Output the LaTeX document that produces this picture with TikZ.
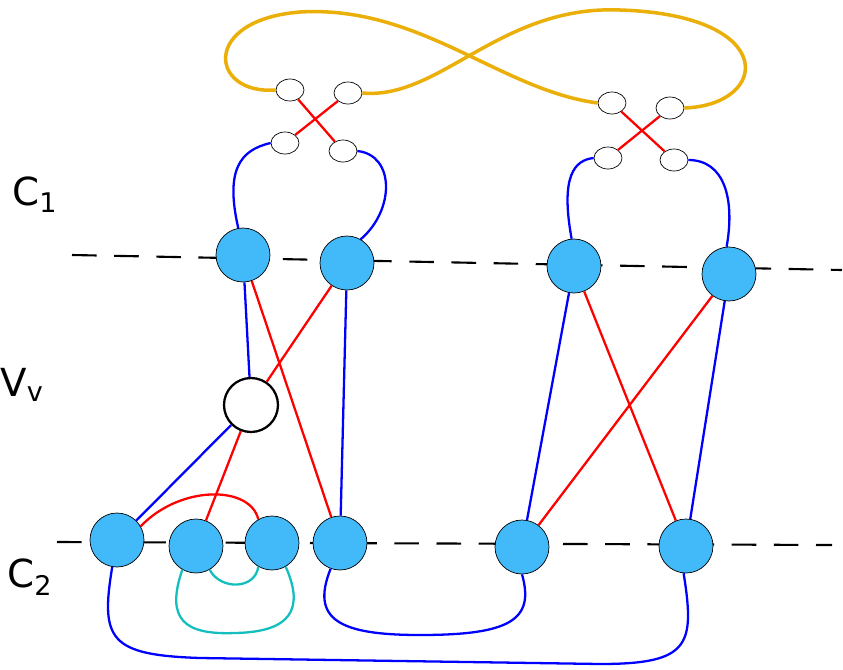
\documentclass[tikz,border=0pt]{standalone}
\usepackage{fontspec}
\setmainfont{DejaVu Sans}
\usetikzlibrary{positioning,shapes.geometric}
\definecolor{nodeblue}{RGB}{66,186,250}
\definecolor{gold}{RGB}{235,175,10}
\definecolor{tealc}{RGB}{20,190,190}
\tikzstyle{vtx} = [circle, draw=black, fill=nodeblue, minimum size=1.08cm, inner sep=0pt]
\tikzstyle{open} = [circle, draw=black, line width=1.3pt, fill=white, minimum size=1.08cm, inner sep=0pt]
\tikzstyle{lil} = [ellipse, draw=black, fill=white, minimum width=0.56cm, minimum height=0.44cm, inner sep=0pt]
\tikzstyle{bl} = [draw=blue, line width=1.3pt]
\tikzstyle{rd} = [draw=red, line width=1.3pt]
\tikzstyle{cy} = [draw=tealc, line width=1.3pt]
\tikzstyle{cutline} = [draw=black, dash pattern=on 14pt off 10pt, line width=1.2pt]
\tikzstyle{lab} = [font=\fontsize{22}{24}\selectfont]
\begin{document}
\begin{tikzpicture}[x=0.02cm,y=-0.02cm]
            \useasboundingbox (0,0) rectangle (843,670);
            % cut lines
            \coordinate (d1a) at (72,255); \coordinate (d1b) at (842,270);
            \coordinate (d2a) at (57,542); \coordinate (d2b) at (832,545);
            \draw[cutline] (d1a) -- (d1b);
            \draw[cutline] (d2a) -- (d2b);

            \node[lab] (C1) at (35,195) {C\textsubscript{1}};
            \node[lab] (Vlab) at (22,385) {V\textsubscript{v}};
            \node[lab] (C2) at (30,577) {C\textsubscript{2}};

            % small ellipses
            \node[lil] (E1) at (290,90) {};
            \node[lil] (E2) at (348,93) {};
            \node[lil] (E3) at (285,143) {};
            \node[lil] (E4) at (343,151) {};
            \node[lil] (E5) at (612,103) {};
            \node[lil] (E6) at (670,108) {};
            \node[lil] (E7) at (608,158) {};
            \node[lil] (E8) at (674,160) {};

            \path[rd] (E1) -- (E4) (E2) -- (E3) (E5) -- (E8) (E6) -- (E7);

            % golden figure eight
            \draw[draw=gold, line width=2pt] (E1.west) .. controls (210,95) and (200,20) .. (300,12)
                .. controls (420,5) and (500,90) .. (E5.west);
            \draw[draw=gold, line width=2pt] (E6.east) .. controls (770,105) and (780,15) .. (620,10)
                .. controls (500,5) and (440,100) .. (E2.east);

            % vertices
            \node[vtx] (A1) at (243,255) {};
            \node[vtx] (A2) at (347,263) {};
            \node[vtx] (A3) at (574,266) {};
            \node[vtx] (A4) at (729,274) {};
            \node[open] (Vv) at (251,405) {};
            \node[vtx] (B1) at (117,540) {};
            \node[vtx] (B2) at (196,546) {};
            \node[vtx] (B3) at (272,543) {};
            \node[vtx] (B4) at (340,543) {};
            \node[vtx] (B5) at (522,547) {};
            \node[vtx] (B6) at (686,546) {};

            % top loops
            \draw[bl] (A1.100) .. controls (225,170) and (240,150) .. (E3.west);
            \draw[bl] (A2.60) .. controls (395,210) and (395,155) .. (E4.east);
            \draw[bl] (A3.95) .. controls (560,175) and (575,160) .. (E7.west);
            \draw[bl] (A4.95) .. controls (735,200) and (725,160) .. (E8.east);

            % straight edges
            \path[bl] (A1) -- (Vv) (A2) -- (B4) (Vv) -- (B1) (A3) -- (B5) (A4) -- (B6);
            \path[rd] (A1) -- (B4) (A2) -- (Vv) (Vv) -- (B2) (A3) -- (B6) (A4) -- (B5);
            \draw[rd] (B1.30) .. controls (180,485) and (250,485) .. (B3.120);

            % cyan loops
            \draw[cy] (B2.-60) .. controls (220,590) and (255,590) .. (B3.-120);
            \draw[cy] (B2.-120) .. controls (165,620) and (185,635) .. (235,633)
                .. controls (290,632) and (305,610) .. (B3.-60);

            % bottom blue
            \draw[bl] (B4.-110) .. controls (310,620) and (340,635) .. (420,635)
                .. controls (510,635) and (535,620) .. (B5.-90);
            \draw[bl] (B1.-100) .. controls (100,640) and (110,655) .. (200,658)
                -- (600,664) .. controls (690,664) and (695,645) .. (B6.-95);
        \end{tikzpicture}
\end{document}
